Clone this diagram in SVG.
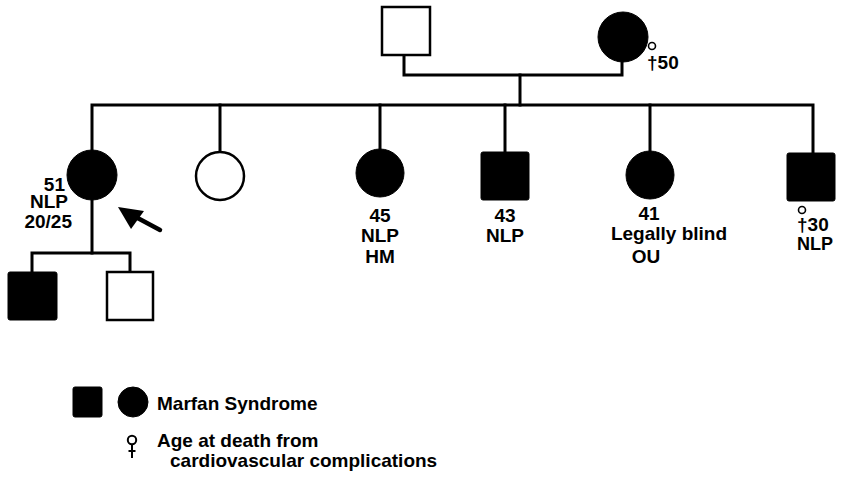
<svg xmlns="http://www.w3.org/2000/svg" width="841" height="484" viewBox="0 0 841 484">
<style>
  .ln{stroke:#000;stroke-width:3;fill:none;stroke-linecap:square}
  .open{fill:#fff;stroke:#000;stroke-width:2.5}
  .aff{fill:#000;stroke:#000;stroke-width:1}
  .dc{fill:#fff;stroke:#000;stroke-width:1.6}
  text{font-family:"Liberation Sans",Arial,sans-serif;font-weight:bold;font-size:19px;fill:#000}
  .c{text-anchor:middle}
  .e{text-anchor:end}
</style>
<rect width="841" height="484" fill="#fff"/>
<g id="connectors">
  <path class="ln" d="M404,55 V75 H622 V62"/>
  <path class="ln" d="M520,75 V105"/>
  <path class="ln" d="M92,150 V105 H813 V153"/>
  <path class="ln" d="M220,105 V152"/>
  <path class="ln" d="M380,105 V149"/>
  <path class="ln" d="M505,105 V152"/>
  <path class="ln" d="M650,105 V151"/>
  <path class="ln" d="M92,200 V253"/>
  <path class="ln" d="M32,272 V253 H130 V272"/>
</g>
<g id="gf"><rect class="open" x="382" y="7" width="48" height="48"/></g>
<g id="gm">
  <circle class="aff" cx="623" cy="37" r="25"/>
  <circle class="dc" cx="652" cy="46" r="3.5"/>
  <text x="647" y="69">†50</text>
</g>
<g id="proband">
  <circle class="aff" cx="92" cy="175" r="25"/>
  <text class="e" x="65" y="191">51</text>
  <text class="e" x="68" y="208">NLP</text>
  <text class="e" x="72" y="228">20/25</text>
</g>
<g id="arrow">
  <line x1="160" y1="230" x2="132" y2="215" stroke="#000" stroke-width="4.5" stroke-linecap="round"/>
  <polygon points="118,207 144,211 131,229" fill="#000"/>
</g>
<g id="sib2"><circle class="open" cx="220" cy="176" r="24"/></g>
<g id="sib3">
  <circle class="aff" cx="380" cy="173" r="24"/>
  <text class="c" x="380" y="222">45</text>
  <text class="c" x="380" y="242">NLP</text>
  <text class="c" x="380" y="263">HM</text>
</g>
<g id="sib4">
  <rect class="aff" x="481" y="152" width="48" height="48" rx="2"/>
  <text class="c" x="505" y="222">43</text>
  <text class="c" x="505" y="242">NLP</text>
</g>
<g id="sib5">
  <circle class="aff" cx="650" cy="175" r="24"/>
  <text class="c" x="649" y="220">41</text>
  <text class="c" x="669" y="240">Legally blind</text>
  <text class="c" x="646" y="263">OU</text>
</g>
<g id="sib6">
  <rect class="aff" x="787" y="153" width="48" height="48" rx="2"/>
  <circle class="dc" cx="802" cy="210" r="3.5"/>
  <text x="797" y="231">†30</text>
  <text x="797" y="250" style="font-size:18px">NLP</text>
</g>
<g id="son1"><rect class="aff" x="8" y="272" width="49" height="48" rx="2"/></g>
<g id="son2"><rect class="open" x="107" y="272" width="46" height="48"/></g>
<g id="legend">
  <rect class="aff" x="73" y="387" width="29" height="30" rx="2"/>
  <circle class="aff" cx="133" cy="402" r="15"/>
  <text x="157" y="410">Marfan Syndrome</text>
  <circle cx="132" cy="440" r="4.2" fill="#fff" stroke="#000" stroke-width="2"/>
  <path d="M132,444 V458 M128.5,451 H135.5" stroke="#000" stroke-width="2" fill="none"/>
  <text x="157" y="447">Age at death from</text>
  <text x="170" y="467">cardiovascular complications</text>
</g>
</svg>
